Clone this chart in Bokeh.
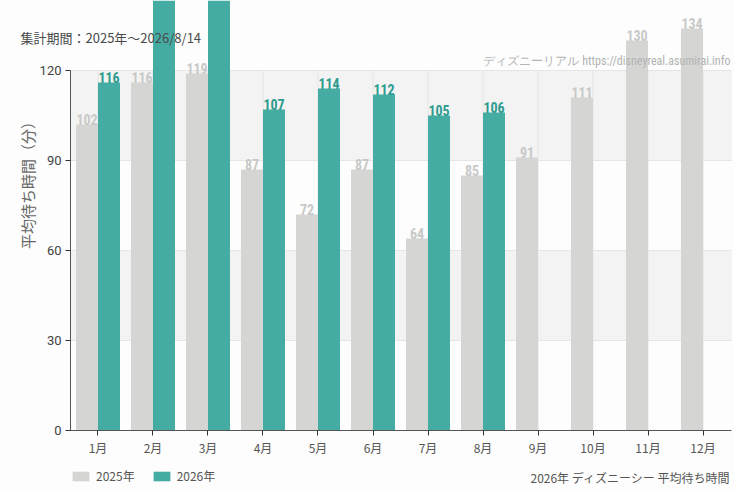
import math
from bokeh.plotting import figure
from bokeh.models import (ColumnDataSource, BoxAnnotation, Label, Legend, LegendItem,
                          FixedTicker, Range1d)
from bokeh.transform import dodge
from bokeh.core.properties import value
from bokeh.embed import file_html
from bokeh.resources import INLINE

# data
months = ["1月", "2月", "3月", "4月", "5月", "6月", "7月", "8月", "9月", "10月", "11月", "12月"]
wait_2025 = [102, 116, 119, 87, 72, 87, 64, 85, 91, 111, 130, 134]
wait_2026 = [116, 150, 146, 107, 114, 112, 105, 106]   # Jan-Aug, Feb/Mar run off the top
y_ticks = [0, 30, 60, 90, 120]
bands = [(30, 60), (90, 120)]

GRAY = "#d5d6d4"
TEAL = "#45aca4"
NUM_FONT = "Roboto Condensed"
JP_FONT = "Noto Sans CJK JP"
BG = "#fcfdfc"
GRID = "#e4e5e4"

W, H = 734, 492
Y_TOP = 143.33      # visible top of the value axis
LABEL_MAX = 137     # labels above this would leave the picture

idx = list(range(len(months)))


def labels(vals):
    return [str(v) if v <= LABEL_MAX else "" for v in vals]


src25 = ColumnDataSource(dict(x=idx, v=wait_2025, lbl=labels(wait_2025)))
src26 = ColumnDataSource(dict(x=idx[:len(wait_2026)], v=wait_2026, lbl=labels(wait_2026)))

# frame covers the whole canvas; axes are pinned inside it
p = figure(width=W, height=H, output_backend="svg", toolbar_location=None, tools="",
           x_range=Range1d(-1.7727, 11.5727), y_range=Range1d(-(H - 430) / 3, Y_TOP),
           min_border=0)
p.background_fill_color = BG
p.border_fill_color = BG
p.outline_line_color = None
p.xgrid.visible = False
p.ygrid.visible = False

x_left, x_right = -0.5, 11.52
y_max = y_ticks[-1]

for lo, hi in bands:
    p.add_layout(BoxAnnotation(left=x_left, right=x_right, bottom=lo, top=hi,
                               fill_color="#f2f3f2", fill_alpha=1.0, line_color=None,
                               level="underlay"))

# grid lines limited to the plotting box
gy = y_ticks[1:]
p.segment(x0=[x_left] * len(gy), x1=[x_right] * len(gy), y0=gy, y1=gy,
          line_color=GRID, line_width=1)
p.segment(x0=idx, x1=idx, y0=[0] * len(idx), y1=[y_max] * len(idx),
          line_color=GRID, line_width=1)

r25 = p.vbar(x=dodge("x", -0.2), top="v", width=0.4, source=src25,
             fill_color=GRAY, line_color=None)
r26 = p.vbar(x=dodge("x", 0.2), top="v", width=0.4, source=src26,
             fill_color=TEAL, line_color=None)

p.text(x=dodge("x", -0.2), y="v", text="lbl", source=src25,
       text_align="center", text_baseline="bottom", y_offset=1,
       text_font=value(NUM_FONT), text_font_size="14px", text_font_style="bold",
       text_color="#c8c9c7")
p.text(x=dodge("x", 0.2), y="v", text="lbl", source=src26,
       text_align="center", text_baseline="bottom", y_offset=1,
       text_font=value(NUM_FONT), text_font_size="14px", text_font_style="bold",
       text_color="#2e9b90")

# axes
yax = p.yaxis[0]
yax.fixed_location = x_left
yax.bounds = (0, y_max)
yax.ticker = FixedTicker(ticks=y_ticks)
yax.major_label_text_font = "Roboto"
yax.major_label_text_font_size = "13px"
yax.major_label_text_color = "#444444"
yax.major_label_standoff = 4
yax.axis_line_color = "#555555"
yax.major_tick_line_color = "#333333"
yax.major_tick_in = 0
yax.major_tick_out = 5
yax.minor_tick_line_color = None

xax = p.xaxis[0]
xax.fixed_location = 0
xax.bounds = (x_left, x_right)
xax.ticker = FixedTicker(ticks=idx)
xax.major_label_overrides = {i: m for i, m in zip(idx, months)}
xax.major_label_text_font = JP_FONT
xax.major_label_text_font_size = "12px"
xax.major_label_text_color = "#555555"
xax.major_label_standoff = 4
xax.axis_line_color = "#555555"
xax.major_tick_line_color = "#333333"
xax.major_tick_in = 0
xax.major_tick_out = 5
xax.minor_tick_line_color = None

# texts (screen units from the bottom-left corner)
p.add_layout(Label(x=27, y=H - 181, x_units="screen", y_units="screen", angle=math.pi / 2,
                   text="平均待ち時間（分）", text_font=JP_FONT, text_font_size="15px",
                   text_color="#666666", text_align="center", text_baseline="middle"))
p.add_layout(Label(x=20, y=H - 37, x_units="screen", y_units="screen",
                   text="集計期間：2025年～2026/8/14", text_font=JP_FONT, text_font_size="13px",
                   text_color="#4a4a4a", text_baseline="middle"))
p.add_layout(Label(x=730, y=H - 60, x_units="screen", y_units="screen",
                   text="ディズニーリアル https://disneyreal.asumirai.info", text_font=NUM_FONT,
                   text_font_size="12px", text_color="#b3b3b3", text_align="right",
                   text_baseline="middle"))
p.add_layout(Label(x=730, y=H - 477, x_units="screen", y_units="screen",
                   text="2026年 ディズニーシー 平均待ち時間", text_font=JP_FONT,
                   text_font_size="12px", text_color="#555555", text_align="right",
                   text_baseline="middle"))

legend = Legend(items=[LegendItem(label="2025年", renderers=[r25]),
                       LegendItem(label="2026年", renderers=[r26])],
                orientation="horizontal", location=(70, H - 484),
                label_text_font=JP_FONT, label_text_font_size="12px", label_text_color="#555555",
                glyph_width=21, glyph_height=12, label_height=14, label_standoff=5,
                spacing=16, padding=0, margin=0,
                border_line_color=None, background_fill_alpha=0)
p.add_layout(legend)

open("out.html", "w").write(file_html(p, INLINE))
